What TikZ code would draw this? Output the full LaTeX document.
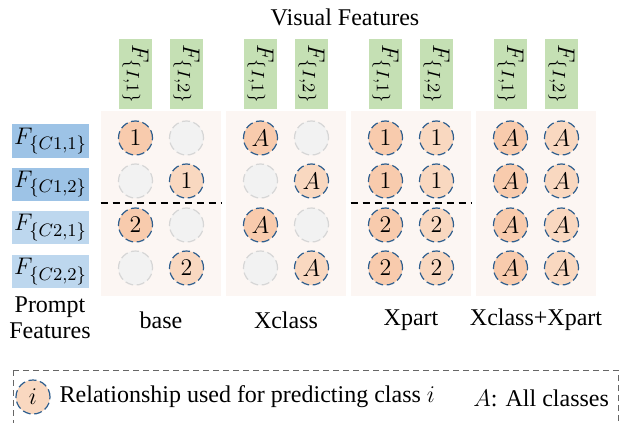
\documentclass[tikz,border=0pt]{standalone}
\usepackage{fontspec}
\setmainfont{Liberation Serif}
\DeclareMathSizes{12}{12}{9.5}{7.5}
\usetikzlibrary{positioning}
\definecolor{visgreen}{HTML}{C5E0B4}
\definecolor{cone}{HTML}{9DC3E6}
\definecolor{ctwo}{HTML}{BDD7EE}
\definecolor{panelpink}{HTML}{FCF6F3}
\definecolor{relfilla}{HTML}{F8CBAD}
\definecolor{relfillb}{HTML}{F9D8C0}
\definecolor{reldash}{HTML}{2E5E8E}
\definecolor{nonefill}{HTML}{F2F2F2}
\definecolor{nonedash}{HTML}{D6D6D6}
\tikzset{
  vis/.style={fill=visgreen, rotate=-90, minimum width=35pt, minimum height=16.5pt, inner sep=0pt},
  prm/.style={minimum width=38.5pt, minimum height=16.5pt, inner sep=0pt},
  panel/.style={fill=panelpink, minimum width=60pt, minimum height=92.5pt, inner sep=0pt},
  rela/.style={circle, draw=reldash, line width=0.6pt, dash pattern=on 4pt off 1.8pt, fill=relfilla, minimum size=17pt, inner sep=0pt},
  relb/.style={rela, fill=relfillb},
  none/.style={rela, draw=nonedash, fill=nonefill},
  sep/.style={line width=0.8pt, dash pattern=on 3.5pt off 2.5pt},
}
\begin{document}
\begin{tikzpicture}[x=0.5pt, y=-0.5pt, font=\fontsize{12}{14}\selectfont]
\useasboundingbox (0,0) rectangle (624,422);
\node at (345,17) (vtitle) {Visual Features};
\foreach \n/\cx/\lab in {1/161/base,2/286/Xclass,3/411/Xpart,4/536/Xclass+Xpart}{
  \node[panel] at (\cx,203.5) (p\n) {};
  \node[vis] at (\cx-25.5,74) (v\n a) {$F_{\{I,1\}}$};
  \node[vis] at (\cx+25.5,74) (v\n b) {$F_{\{I,2\}}$};
  \node at (\cx,320) (t\n) {\lab};
}
\node[prm, fill=cone] at (50.5,141) (f11) {$F_{\{C1,1\}}$};
\node[prm, fill=cone] at (50.5,184) (f12) {$F_{\{C1,2\}}$};
\node[prm, fill=ctwo] at (50.5,227.5) (f21) {$F_{\{C2,1\}}$};
\node[prm, fill=ctwo] at (50.5,271.5) (f22) {$F_{\{C2,2\}}$};
\node[align=center] at (50,318) (ptitle) {Prompt\\[-1pt]Features};
\foreach \r/\y/\sa/\ta/\sb/\tb in {1/138/rela/1/none/,2/181/none//relb/1,3/225/rela/2/none/,4/268/none//relb/2}{
  \node[\sa] at (135.5,\y) (c1\r a) {$\ta$};
  \node[\sb] at (186.5,\y) (c1\r b) {$\tb$};
}
\foreach \r/\y/\sa/\ta/\sb/\tb in {1/138/rela/A/none/,2/181/none//relb/A,3/225/rela/A/none/,4/268/none//relb/A}{
  \node[\sa] at (260.5,\y) (c2\r a) {$\ta$};
  \node[\sb] at (311.5,\y) (c2\r b) {$\tb$};
}
\foreach \r/\y/\t in {1/138/1,2/181/1,3/225/2,4/268/2}{
  \node[rela] at (385.5,\y) (c3\r a) {$\t$};
  \node[relb] at (436.5,\y) (c3\r b) {$\t$};
  \node[rela] at (510.5,\y) (c4\r a) {$A$};
  \node[relb] at (561.5,\y) (c4\r b) {$A$};
}
\coordinate (sy) at (0,203);
\draw[sep] (p1.west |- sy) -- (p1.east |- sy);
\draw[sep] (p3.west |- sy) -- (p3.east |- sy);
\draw[gray!80!black, line width=0.5pt, dash pattern=on 3pt off 2pt] (13,370) rectangle (618,428);
\node[rela, fill=relfillb] at (33,397) (key) {$i$};
\node[anchor=west, right=1pt of key] (keytext) {Relationship used for predicting class $i$};
\node[anchor=east] at (616,398) (akey) {$A$: All classes};
\end{tikzpicture}
\end{document}
